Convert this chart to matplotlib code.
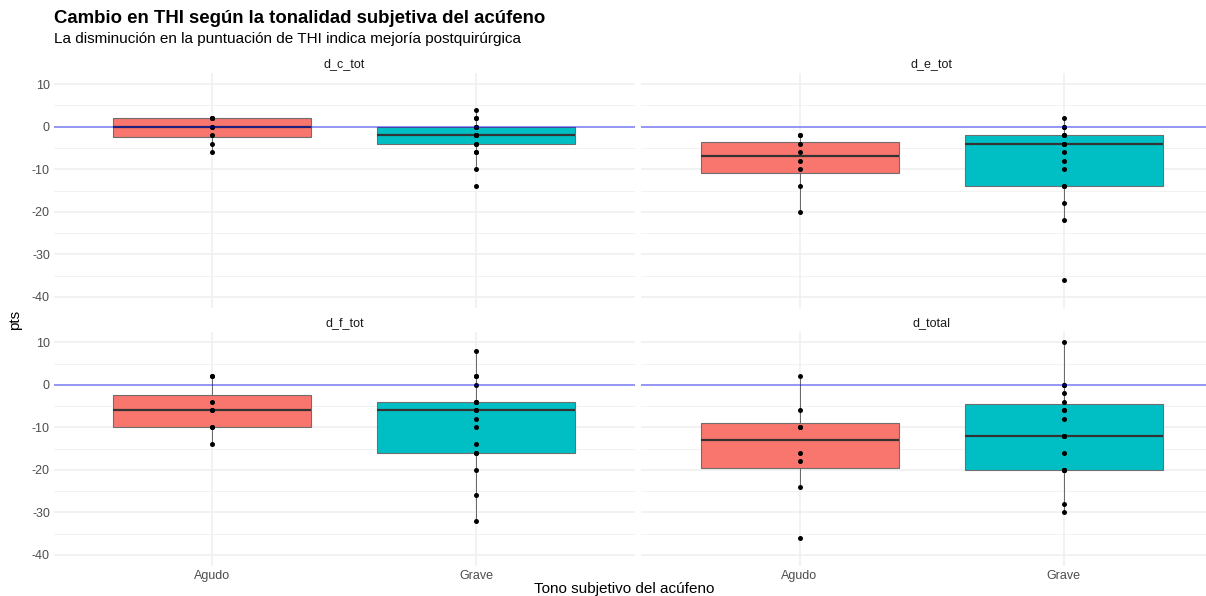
import matplotlib
matplotlib.use("Agg")
import matplotlib.pyplot as plt
import numpy as np

plt.rcParams['font.family'] = ['Liberation Sans', 'DejaVu Sans']

# Change in THI sub-scores (post - pre), by subjective tinnitus pitch
groups = ["Agudo", "Grave"]
facets = ["d_c_tot", "d_e_tot", "d_f_tot", "d_total"]

d_c_tot_agudo = [-6, -4, -2, 0, 0, 2, 2, 2]
d_c_tot_grave = [-14, -10, -6, -6, -4, -4, -2, -2, -2, -2, 0, 0, 0, 0, 2, 2, 4]

d_e_tot_agudo = [-20, -14, -10, -8, -6, -4, -2, -2]
d_e_tot_grave = [-36, -22, -18, -14, -14, -10, -8, -6, -4, -4, -4, -2, -2, -2, 0, 0, 2]

d_f_tot_agudo = [-14, -10, -10, -6, -6, -4, 2, 2]
d_f_tot_grave = [-32, -26, -20, -16, -16, -14, -10, -8, -6, -6, -4, -4, -4, 0, 2, 2, 8]

d_total_agudo = [-36, -24, -18, -16, -10, -10, -6, 2]
d_total_grave = [-30, -28, -20, -20, -20, -20, -16, -12, -12, -12, -8, -6, -6, -4, -2, 0, 0, 10]

facet_data = {
    "d_c_tot": [d_c_tot_agudo, d_c_tot_grave],
    "d_e_tot": [d_e_tot_agudo, d_e_tot_grave],
    "d_f_tot": [d_f_tot_agudo, d_f_tot_grave],
    "d_total": [d_total_agudo, d_total_grave],
}

y_ticks = [10, 0, -10, -20, -30, -40]
y_minor = [5, -5, -15, -25, -35]

fill_colors = ["#F8766D", "#00BFC4"]
grid_col = "#F0F0F0"

W, H = 1206, 596
fig = plt.figure(figsize=(W / 100, H / 100), dpi=100)
fig.patch.set_facecolor("white")


def px_axes(x0, y0, x1, y1):
    return fig.add_axes([x0 / W, 1 - y1 / H, (x1 - x0) / W, (y1 - y0) / H])


cols = [(54.1, 634.9), (641.1, 1221.9)]
rows = [(73.4, 307.6), (331.7, 565.6)]

for i, name in enumerate(facets):
    r, c = divmod(i, 2)
    x0, x1 = cols[c]
    y0, y1 = rows[r]
    ax = px_axes(x0, y0, x1, y1)
    ax.set_xlim(0.4, 2.6)
    ax.set_ylim(-42.5, 12.5)
    for s in ax.spines.values():
        s.set_visible(False)

    # grid
    for yv in y_minor:
        ax.axhline(yv, color=grid_col, lw=0.6, zorder=0)
    for yv in y_ticks:
        ax.axhline(yv, color=grid_col, lw=1.2, zorder=0)
    for xv in (1, 2):
        ax.axvline(xv, color=grid_col, lw=1.2, zorder=0)

    data = facet_data[name]
    bp = ax.boxplot(data, positions=[1, 2], widths=0.75, patch_artist=True,
                    showfliers=False, showcaps=False, whis=1.5,
                    medianprops=dict(color="#333333", lw=1.6),
                    whiskerprops=dict(color="#666666", lw=0.7),
                    boxprops=dict(edgecolor="#6E6E6E", lw=0.8),
                    zorder=2)
    for patch, col in zip(bp["boxes"], fill_colors):
        patch.set_facecolor(col)

    for pos, vals in zip([1, 2], data):
        ax.plot([pos] * len(vals), vals, "o", color="black", ms=3.6,
                mec="none", zorder=4)

    ax.axhline(0, color="#0000FF", alpha=0.45, lw=1.2, zorder=5)

    ax.set_yticks(y_ticks)
    ax.set_xticks([1, 2])
    ax.tick_params(length=0, colors="#4D4D4D", labelsize=9, pad=3)
    if c == 0:
        ax.set_yticklabels([str(v) for v in y_ticks])
    else:
        ax.set_yticklabels([])
    if r == 1:
        ax.set_xticklabels(groups)
    else:
        ax.set_xticklabels([])

    fig.text((x0 + x1) / 2 / W, 1 - (y0 - 9) / H, name, ha="center",
             va="center", fontsize=9, color="#1A1A1A")

fig.text(54 / W, 1 - 10 / H, "Cambio en THI según la tonalidad subjetiva del acúfeno",
         fontsize=13.4, fontweight="bold", ha="left", va="top", color="black")
fig.text(54 / W, 1 - 32 / H, "La disminución en la puntuación de THI indica mejoría postquirúrgica",
         fontsize=11, ha="left", va="top", color="black")

fig.text(624 / W, 1 - 589 / H, "Tono subjetivo del acúfeno", fontsize=11,
         ha="center", va="center", color="black")
fig.text(15 / W, 1 - 319.5 / H, "pts", fontsize=11, rotation=90,
         ha="center", va="center", color="black")

fig.savefig("out.png", dpi=100, facecolor="white")
